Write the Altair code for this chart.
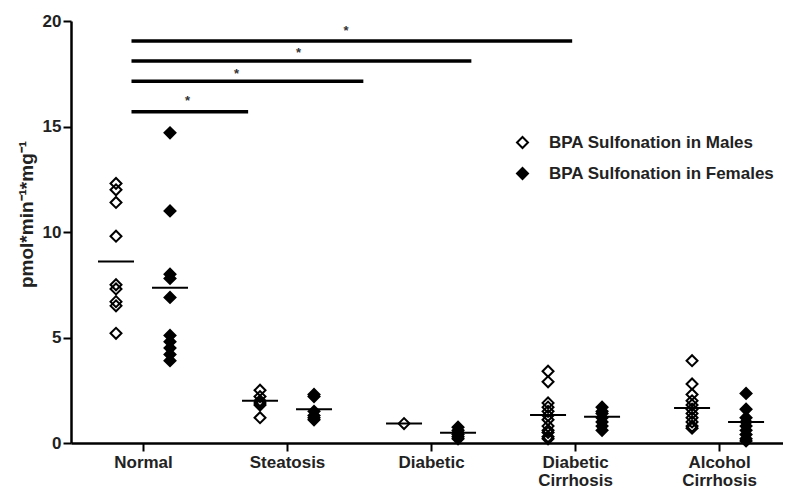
import altair as alt
import pandas as pd

categories = ["Normal", "Steatosis", "Diabetic", "Diabetic\nCirrhosis", "Alcohol\nCirrhosis"]
series = ["BPA Sulfonation in Males", "BPA Sulfonation in Females"]

male_values = [
    [12.3, 12.0, 11.4, 9.8, 7.5, 7.3, 6.7, 6.5, 5.2],
    [2.5, 2.2, 2.0, 1.9, 1.8, 1.2],
    [0.92],
    [3.4, 2.9, 1.9, 1.7, 1.5, 1.3, 1.1, 0.8, 0.6, 0.5, 0.3, 0.2],
    [3.9, 2.8, 2.3, 2.0, 1.8, 1.6, 1.4, 1.2, 1.0, 0.8, 0.7],
]
female_values = [
    [14.7, 11.0, 8.0, 7.8, 6.9, 5.1, 4.8, 4.5, 4.2, 3.9],
    [2.3, 2.2, 1.5, 1.3, 1.2, 1.1],
    [0.75, 0.6, 0.5, 0.4, 0.3, 0.2],
    [1.7, 1.5, 1.4, 1.2, 1.0, 0.8, 0.6],
    [2.35, 1.6, 1.2, 1.0, 0.8, 0.6, 0.4, 0.2, 0.1],
]
male_means = [8.6, 2.0, 0.92, 1.33, 1.66]
female_means = [7.36, 1.6, 0.48, 1.25, 1.0]

sig_start = [0.92, 0.92, 0.92, 0.92]
sig_end = [1.73, 2.53, 3.28, 3.98]
sig_y = [15.7, 17.15, 18.1, 19.05]
star_x = [1.31, 1.65, 2.08, 2.41]
star_y = [16.34, 17.62, 18.62, 19.67]

OFF = 0.1875
HALF = 0.125

rows = []
for i, (mv, fv) in enumerate(zip(male_values, female_values)):
    for v in mv:
        rows.append({"pos": i + 1 - OFF, "value": v, "series": series[0]})
    for v in fv:
        rows.append({"pos": i + 1 + OFF, "value": v, "series": series[1]})
pts = pd.DataFrame(rows)

mrows = []
for i, (m, f) in enumerate(zip(male_means, female_means)):
    c = i + 1 - OFF
    mrows.append({"x1": c - HALF, "x2": c + HALF, "y": m})
    c = i + 1 + OFF
    mrows.append({"x1": c - HALF, "x2": c + HALF, "y": f})
means = pd.DataFrame(mrows)

sig = pd.DataFrame({"x1": sig_start, "x2": sig_end, "y": sig_y})
stars = pd.DataFrame({"x": star_x, "y": star_y, "t": ["*"] * 4})

# label expression for multi-line category labels
expr = "''"
for i in reversed(range(len(categories))):
    parts = categories[i].split("\n")
    lab = "[" + ",".join("'" + p + "'" for p in parts) + "]" if len(parts) > 1 else "'" + parts[0] + "'"
    expr = f"datum.value == {i + 1} ? {lab} : ({expr})"

FONT = "Liberation Sans"
xscale = alt.Scale(domain=[0.5, 5.444], nice=False, zero=False)
yscale = alt.Scale(domain=[0, 20], nice=False)
YTITLE = "pmol*min⁻¹*mg⁻¹"

xaxis = alt.Axis(values=[1, 2, 3, 4, 5], labelExpr=expr, grid=False, domainWidth=2.5,
                 domainColor="black", tickColor="black", tickWidth=2, tickSize=8,
                 labelFont=FONT, labelFontWeight="bold", labelFontSize=17, labelColor="#222",
                 labelPadding=3, labelLineHeight=18, labelFlush=False, labelOverlap=False)
yaxis = alt.Axis(values=[0, 5, 10, 15, 20], grid=False, domainWidth=2.5, domainColor="black",
                 tickColor="black", tickWidth=2, tickSize=8,
                 labelFont=FONT, labelFontWeight="bold", labelFontSize=17, labelColor="#222",
                 labelPadding=2, titleFont=FONT, titleFontWeight="bold", titleFontSize=19,
                 titleColor="#222", titlePadding=6, titleY=193)


def X(field):
    return alt.X(field, scale=xscale, title=None, axis=xaxis)


def Y(field):
    return alt.Y(field, scale=yscale, title=YTITLE, axis=yaxis)


points = alt.Chart(pts).mark_point(shape="diamond", size=120, strokeWidth=2, opacity=1, stroke="black").encode(
    x=X("pos:Q"),
    y=Y("value:Q"),
    fill=alt.Fill("series:N", scale=alt.Scale(domain=series, range=["rgba(255,255,255,0)", "black"]),
                  legend=alt.Legend(title=None, orient="none", legendX=443, legendY=113,
                                    symbolType="diamond", symbolSize=120, symbolStrokeColor="black",
                                    symbolStrokeWidth=2, labelFont=FONT, labelFontWeight="bold",
                                    labelFontSize=17, labelColor="#222", rowPadding=12, labelOffset=18,
                                    labelLimit=400)),
)

mean_rules = alt.Chart(means).mark_rule(color="black", strokeWidth=2).encode(
    x=X("x1:Q"), x2="x2:Q", y=Y("y:Q"),
)

sig_rules = alt.Chart(sig).mark_rule(color="black", strokeWidth=3.5).encode(
    x=X("x1:Q"), x2="x2:Q", y=Y("y:Q"),
)

star_text = alt.Chart(stars).mark_text(font=FONT, fontSize=13, fontWeight="bold", color="#333",
                                       baseline="middle", dy=3).encode(
    x=X("x:Q"), y=Y("y:Q"), text="t:N",
)

chart = alt.layer(points, mean_rules, sig_rules, star_text).properties(
    width=712, height=422, autosize="none",
    padding={"left": 63, "top": 13, "right": 0, "bottom": 48},
).configure(background="white").configure_view(stroke=None)

chart.save("out.html", embed_options={"renderer": "svg", "actions": False})
